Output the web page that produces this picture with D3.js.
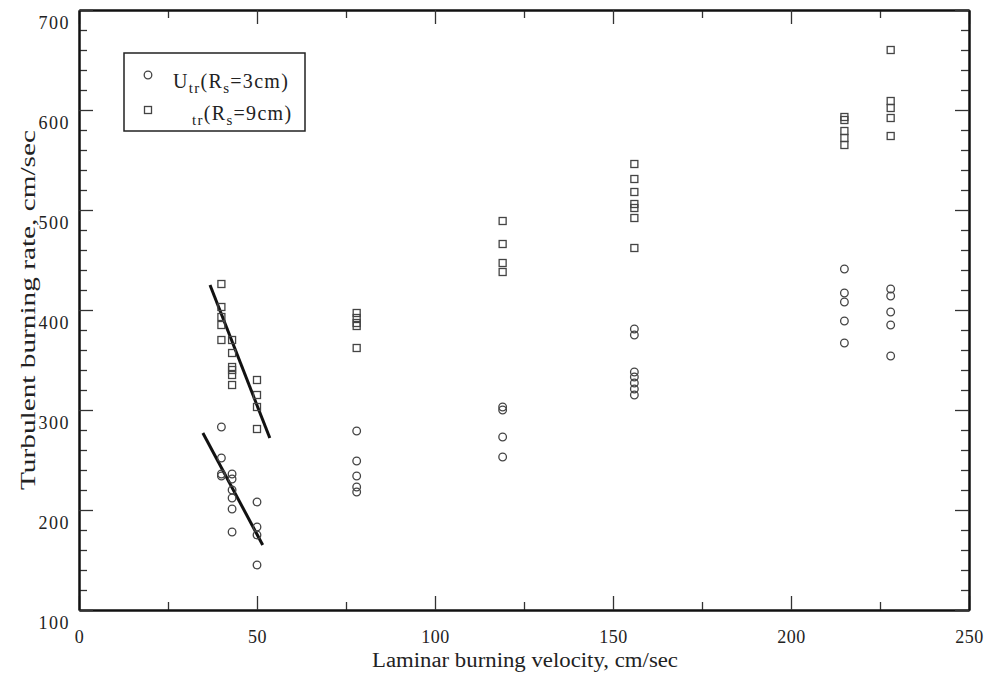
<!DOCTYPE html>
<html>
<head>
<meta charset="utf-8">
<script src="https://cdn.jsdelivr.net/npm/d3@7"></script>
<style>
  body { margin: 0; background: #fff; }
  text { font-family: "Liberation Serif", "DejaVu Serif", serif; fill: #222; }
</style>
</head>
<body>
<div id="chart"></div>
<script>
// Laminar burning velocity (x) vs turbulent burning rate (y)
// Rs = 3cm  (circles)
const circleX = [40, 40, 40, 40, 43, 43, 43, 43, 43, 43, 50, 50, 50, 50,
                 78, 78, 78, 78, 78,
                 119, 119, 119, 119,
                 156, 156, 156, 156, 156, 156, 156,
                 215, 215, 215, 215, 215,
                 228, 228, 228, 228, 228];
const circleY = [283, 252, 236, 234, 236, 231, 220, 212, 201, 178, 208, 183, 175, 145,
                 279, 249, 234, 223, 218,
                 303, 300, 273, 253,
                 381, 375, 338, 333, 327, 321, 315,
                 441, 417, 408, 389, 367,
                 421, 414, 398, 385, 354];
// Rs = 9cm  (squares)
const squareX = [40, 40, 40, 40, 40, 43, 43, 43, 43, 43, 43, 50, 50, 50, 50,
                 78, 78, 78, 78, 78,
                 119, 119, 119, 119,
                 156, 156, 156, 156, 156, 156, 156,
                 215, 215, 215, 215, 215,
                 228, 228, 228, 228, 228];
const squareY = [426, 403, 393, 385, 370, 370, 357, 343, 340, 335, 325, 330, 315, 303, 281,
                 397, 392, 387, 384, 362,
                 489, 466, 447, 438,
                 546, 531, 518, 506, 502, 492, 462,
                 593, 590, 579, 572, 565,
                 660, 609, 602, 592, 574];
// hand-drawn trend lines [x0, y0, x1, y1]
const trendLines = [[36.8, 425, 53.6, 272], [34.8, 277, 51.6, 165]];

const xTicks = [0, 50, 100, 150, 200, 250];
const yTicks = [100, 200, 300, 400, 500, 600, 700];

const W = 1003, H = 676;
const plot = {left: 79, right: 969, top: 10, bottom: 610};

const svg = d3.select("#chart").append("svg")
  .attr("width", W).attr("height", H);

const x = d3.scaleLinear().domain([0, 250]).range([plot.left, plot.right]);
const y = d3.scaleLinear().domain([100, 700]).range([plot.bottom, plot.top]);

// minor ticks first, then major ones with labels
function styleAxis(g) {
  g.select(".domain").attr("stroke", "#111").attr("stroke-width", 2);
  g.selectAll(".tick line").attr("stroke", "#333").attr("stroke-width", 1.3);
}
const minorX = d3.range(25, 250, 50);
const minorY = d3.range(100, 701, 20).filter(v => v % 100 !== 0);

svg.append("g").attr("transform", `translate(0,${plot.bottom})`)
  .call(d3.axisBottom(x).tickValues(minorX).tickSize(-8).tickSizeOuter(0).tickFormat(""))
  .call(styleAxis);
svg.append("g").attr("transform", `translate(0,${plot.top})`)
  .call(d3.axisTop(x).tickValues(minorX).tickSize(-8).tickSizeOuter(0).tickFormat(""))
  .call(styleAxis);
svg.append("g").attr("transform", `translate(${plot.left},0)`)
  .call(d3.axisLeft(y).tickValues(minorY).tickSize(-8).tickSizeOuter(0).tickFormat(""))
  .call(styleAxis);
svg.append("g").attr("transform", `translate(${plot.right},0)`)
  .call(d3.axisRight(y).tickValues(minorY).tickSize(-8).tickSizeOuter(0).tickFormat(""))
  .call(styleAxis);

const xAxis = svg.append("g").attr("transform", `translate(0,${plot.bottom})`)
  .call(d3.axisBottom(x).tickValues(xTicks).tickSize(-14).tickSizeOuter(0).tickPadding(20))
  .call(styleAxis);
svg.append("g").attr("transform", `translate(0,${plot.top})`)
  .call(d3.axisTop(x).tickValues(xTicks).tickSize(-14).tickSizeOuter(0).tickFormat(""))
  .call(styleAxis);
const yAxis = svg.append("g").attr("transform", `translate(${plot.left},0)`)
  .call(d3.axisLeft(y).tickValues(yTicks).tickSize(-14).tickSizeOuter(0).tickPadding(9))
  .call(styleAxis);
svg.append("g").attr("transform", `translate(${plot.right},0)`)
  .call(d3.axisRight(y).tickValues(yTicks).tickSize(-14).tickSizeOuter(0).tickFormat(""))
  .call(styleAxis);

xAxis.selectAll("text")
  .style("font-family", "Liberation Serif").style("font-size", "18px")
  .attr("fill", "#333").style("letter-spacing", "0.5px");
yAxis.selectAll("text")
  .style("font-family", "Liberation Serif").style("font-size", "18px")
  .attr("fill", "#333").style("letter-spacing", "1.5px")
  .attr("dy", "1.0em");

// axis titles
svg.append("text")
  .attr("x", 525).attr("y", 667)
  .attr("text-anchor", "middle")
  .attr("textLength", 306).attr("lengthAdjust", "spacingAndGlyphs")
  .style("font-size", "20px")
  .text("Laminar burning velocity, cm/sec");
svg.append("text")
  .attr("transform", `translate(35,310) rotate(-90)`)
  .attr("text-anchor", "middle")
  .attr("textLength", 360).attr("lengthAdjust", "spacingAndGlyphs")
  .style("font-size", "21px")
  .text("Turbulent burning rate, cm/sec");

const markStroke = "#444";

// trend lines
svg.selectAll(".trend").data(trendLines).join("line")
  .attr("class", "trend")
  .attr("x1", d => x(d[0])).attr("y1", d => y(d[1]))
  .attr("x2", d => x(d[2])).attr("y2", d => y(d[3]))
  .attr("stroke", "#111").attr("stroke-width", 3);

// Rs = 3cm
svg.selectAll(".c3").data(circleX.map((v, i) => [v, circleY[i]])).join("circle")
  .attr("class", "c3")
  .attr("cx", d => x(d[0])).attr("cy", d => y(d[1]))
  .attr("r", 3.8)
  .attr("fill", "none").attr("stroke", markStroke).attr("stroke-width", 1.3);

// Rs = 9cm
svg.selectAll(".s9").data(squareX.map((v, i) => [v, squareY[i]])).join("rect")
  .attr("class", "s9")
  .attr("x", d => x(d[0]) - 3.5).attr("y", d => y(d[1]) - 3.5)
  .attr("width", 7).attr("height", 7)
  .attr("fill", "none").attr("stroke", markStroke).attr("stroke-width", 1.3);

// legend
const lg = svg.append("g");
lg.append("rect")
  .attr("x", 124).attr("y", 53).attr("width", 181).attr("height", 78)
  .attr("fill", "#fff").attr("stroke", "#222").attr("stroke-width", 1.5);
lg.append("circle").attr("cx", 148).attr("cy", 75).attr("r", 3.8)
  .attr("fill", "none").attr("stroke", markStroke).attr("stroke-width", 1.3);
lg.append("rect").attr("x", 144.5).attr("y", 106.5).attr("width", 7).attr("height", 7)
  .attr("fill", "none").attr("stroke", markStroke).attr("stroke-width", 1.3);

const t1 = lg.append("text").attr("x", 173).attr("y", 88)
  .style("font-size", "20px").style("letter-spacing", "1.3px");
t1.append("tspan").text("U");
t1.append("tspan").attr("dy", 5).style("font-size", "15px").text("tr");
t1.append("tspan").attr("dy", -5).text("(R");
t1.append("tspan").attr("dy", 5).style("font-size", "15px").text("s");
t1.append("tspan").attr("dy", -5).text("=3cm)");

const t2 = lg.append("text").attr("x", 192).attr("y", 120)
  .style("font-size", "20px").style("letter-spacing", "1.3px");
t2.append("tspan").attr("dy", 5).style("font-size", "15px").text("tr");
t2.append("tspan").attr("dy", -5).text("(R");
t2.append("tspan").attr("dy", 5).style("font-size", "15px").text("s");
t2.append("tspan").attr("dy", -5).text("=9cm)");
</script>
</body>
</html>
